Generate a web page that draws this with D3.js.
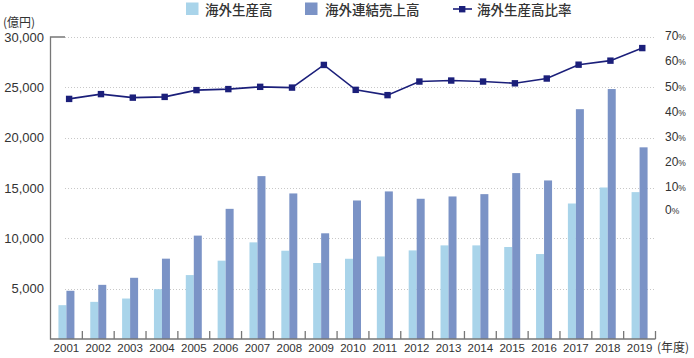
<!DOCTYPE html>
<html><head><meta charset="utf-8">
<script src="https://cdn.jsdelivr.net/npm/d3@7"></script>
<style>
html,body{margin:0;padding:0;background:#fff;}
svg{display:block;}
</style></head>
<body><svg id="c" width="694" height="358"></svg>
<script>
const years = ["2001","2002","2003","2004","2005","2006","2007","2008","2009","2010","2011","2012","2013","2014","2015","2016","2017","2018","2019"];
const overseasProduction = [3360,3690,4020,4950,6350,7780,9600,8770,7550,7970,8200,8800,9300,9300,9140,8440,13460,15050,14590];
const overseasSales = [4790,5380,6080,7980,10270,12930,16180,14460,10500,13760,14660,13930,14160,14390,16480,15750,22830,24830,19040];
const productionRatio = [45.4,47.3,45.9,46.2,48.9,49.3,50.2,49.9,58.9,49.0,46.9,52.3,52.7,52.3,51.6,53.5,59.0,60.6,65.6];
const leftTicks = [5000,10000,15000,20000,25000,30000];
const rightTicks = [0,10,20,30,40,50,60,70];
const seriesNames = ["海外生産高","海外連結売上高","海外生産高比率"];

const svg = d3.select("#c");
const numFont = "'Liberation Sans', Arial, Helvetica, sans-serif";
const jpFont = "'Noto Sans CJK JP', 'Noto Sans', sans-serif";
const cLight = "#a9d4ea", cDark = "#7b93c6", cLine = "#1b1f7a", cText = "#333", cAxis = "#777";

const x0 = 50.5, x1 = 655.5, yBase = 339, yTop = 37;
const x = d3.scaleBand().domain(years).range([x0, x1]).padding(0);
const y = d3.scaleLinear().domain([0, 30000]).range([yBase, yTop]);
const yR = d3.scaleLinear().domain([0, 70]).range([y(12500), y(30000)]);

// gridlines
svg.append("g").selectAll("line").data(leftTicks).join("line")
  .attr("x1", 65).attr("x2", x1).attr("y1", d => Math.round(y(d)) + 0.5).attr("y2", d => Math.round(y(d)) + 0.5)
  .attr("stroke", "#c8c8c8").attr("stroke-width", 1).attr("stroke-dasharray", "1,2");

// bars
const bw = 8;
const gBars = svg.append("g");
gBars.selectAll("rect.l").data(years).join("rect").attr("class", "l")
  .attr("x", d => x(d) + x.bandwidth() / 2 - bw)
  .attr("y", (d, i) => y(overseasProduction[i]))
  .attr("width", bw).attr("height", (d, i) => yBase - y(overseasProduction[i]))
  .attr("fill", cLight);
gBars.selectAll("rect.d").data(years).join("rect").attr("class", "d")
  .attr("x", d => x(d) + x.bandwidth() / 2)
  .attr("y", (d, i) => y(overseasSales[i]))
  .attr("width", bw).attr("height", (d, i) => yBase - y(overseasSales[i]))
  .attr("fill", cDark);

// axes
const ax = svg.append("g").attr("stroke", cAxis).attr("stroke-width", 1.3).attr("fill", "none");
ax.append("path").attr("d", `M65,${y(30000)}H${x0}V${yBase}H${x1}`);
ax.selectAll("line.t").data(years.map((d, i) => x(d) + x.bandwidth())).join("line").attr("class", "t")
  .attr("x1", d => d).attr("x2", d => d).attr("y1", yBase).attr("y2", yBase - 8);

// left labels
svg.append("g").selectAll("text").data(leftTicks).join("text")
  .attr("x", 44).attr("y", d => y(d)).attr("dy", "0.36em").attr("text-anchor", "end")
  .attr("font-family", numFont).attr("font-size", 13).attr("fill", cText)
  .text(d => d3.format(",")(d));
svg.append("text").attr("x", 3).attr("y", 27).attr("font-family", jpFont).attr("font-size", 12)
  .attr("fill", cText).text("(億円)");

// right labels
const rt = svg.append("g").selectAll("text").data(rightTicks).join("text")
  .attr("x", 665).attr("y", d => yR(d) + (d === 0 ? -3 : -1)).attr("dy", "0.36em")
  .attr("font-family", numFont).attr("font-size", 12).attr("fill", cText);
rt.append("tspan").text(d => d);
rt.append("tspan").attr("font-size", 8.5).text("%");

// year labels
svg.append("g").selectAll("text").data(years).join("text")
  .attr("x", d => x(d) + x.bandwidth() / 2).attr("y", 352).attr("text-anchor", "middle")
  .attr("font-family", numFont).attr("font-size", 11.5).attr("fill", cText).text(d => d);
svg.append("text").attr("x", 657).attr("y", 352).attr("font-family", jpFont).attr("font-size", 12)
  .attr("fill", cText).text("(年度)");

// line
const lx = (d) => x(d) + x.bandwidth() / 2 + 2.7;
const line = d3.line().x((d, i) => lx(years[i])).y(d => yR(d));
svg.append("path").datum(productionRatio).attr("d", line)
  .attr("fill", "none").attr("stroke", cLine).attr("stroke-width", 1.6);
svg.append("g").selectAll("rect").data(productionRatio).join("rect")
  .attr("x", (d, i) => lx(years[i]) - 3.2).attr("y", d => yR(d) - 3.2)
  .attr("width", 6.4).attr("height", 6.4).attr("fill", cLine);

// legend
const lg = svg.append("g");
lg.append("rect").attr("x", 186).attr("y", 2.5).attr("width", 12.5).attr("height", 12.5).attr("fill", cLight);
lg.append("text").attr("x", 205).attr("y", 15).attr("font-family", jpFont).attr("font-size", 13.5)
  .attr("font-weight", 500).attr("fill", cText).text(seriesNames[0]);
lg.append("rect").attr("x", 305).attr("y", 2.5).attr("width", 12.5).attr("height", 12.5).attr("fill", cDark);
lg.append("text").attr("x", 325).attr("y", 15).attr("font-family", jpFont).attr("font-size", 13.5)
  .attr("font-weight", 500).attr("fill", cText).text(seriesNames[1]);
lg.append("line").attr("x1", 453).attr("x2", 472).attr("y1", 9).attr("y2", 9).attr("stroke", cLine).attr("stroke-width", 1.6);
lg.append("rect").attr("x", 459).attr("y", 6).attr("width", 6.4).attr("height", 6.4).attr("fill", cLine);
lg.append("text").attr("x", 477).attr("y", 15).attr("font-family", jpFont).attr("font-size", 13.5)
  .attr("font-weight", 500).attr("fill", cText).text(seriesNames[2]);
</script></body></html>
